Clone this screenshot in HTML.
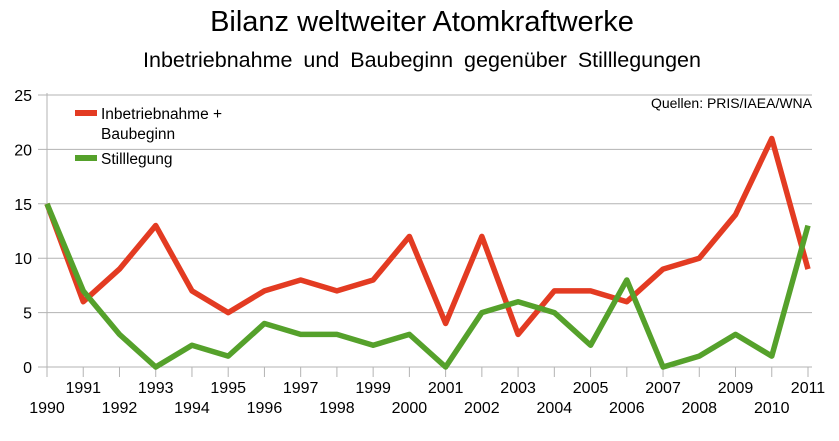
<!DOCTYPE html>
<html><head><meta charset="utf-8"><style>
body{margin:0;background:#fff;}
svg text{font-family:"Liberation Sans",sans-serif;fill:#000;}
</style></head><body>
<svg width="839" height="436" viewBox="0 0 839 436">
<text x="422" y="31" font-size="29" text-anchor="middle">Bilanz weltweiter Atomkraftwerke</text>
<text x="422" y="67" font-size="21.5" text-anchor="middle" word-spacing="5">Inbetriebnahme und Baubeginn gegenüber Stilllegungen</text>
<g id="grid"></g>
<g id="axes"></g>
<g id="series"></g>
<text x="812" y="108" font-size="14" text-anchor="end">Quellen: PRIS/IAEA/WNA</text>
<g>
<rect x="75" y="110" width="22" height="6" fill="#e33b22"/>
<text x="101" y="119" font-size="15.5">Inbetriebnahme +</text>
<text x="101" y="139" font-size="15.5">Baubeginn</text>
<rect x="75" y="155" width="22" height="6" fill="#55a12b"/>
<text x="101" y="164" font-size="15.5">Stilllegung</text>
</g>
</svg>
<script>
const years=[1990,1991,1992,1993,1994,1995,1996,1997,1998,1999,2000,2001,2002,2003,2004,2005,2006,2007,2008,2009,2010,2011];
const inbetrieb=[15,6,9,13,7,5,7,8,7,8,12,4,12,3,7,7,6,9,10,14,21,9];
const stilllegung=[15,7,3,0,2,1,4,3,3,2,3,0,5,6,5,2,8,0,1,3,1,13];
const yTicks=[0,5,10,15,20,25];
const NS="http://www.w3.org/2000/svg";
const X0=47,X1=808,Y0=367,Y1=95;
function xs(i){return X0+(X1-X0)*i/(years.length-1);}
function ys(v){return Y0-(Y0-Y1)*v/25;}
function mk(t,a,p){const e=document.createElementNS(NS,t);for(const k in a)e.setAttribute(k,a[k]);p.appendChild(e);return e;}
const grid=document.getElementById('grid'),axes=document.getElementById('axes'),ser=document.getElementById('series');
yTicks.forEach(v=>{
 const l=mk('line',{x1:38,x2:812,y1:ys(v),y2:ys(v),stroke:'#b3b3b3','stroke-width':1},grid);
 
 
 const t=mk('text',{x:32,y:ys(v)+6,'font-size':16,'text-anchor':'end'},axes);
 t.textContent=v;
 
 
});
const ax=mk('line',{x1:X0,x2:X0,y1:Y1-2,y2:Y0+10,stroke:'#b3b3b3','stroke-width':1},axes);


years.forEach((yr,i)=>{
 const tk=mk('line',{x1:xs(i),x2:xs(i),y1:Y0,y2:Y0+10,stroke:'#b3b3b3','stroke-width':1},axes);
 
 
 const t=mk('text',{x:xs(i),y:(i%2?393:413),'font-size':16,'text-anchor':'middle'},axes);
 t.textContent=yr;
 
 
});
function line(data,color,name){
 const p=mk('polyline',{points:data.map((v,i)=>xs(i)+','+ys(v)).join(' '),fill:'none',stroke:color,'stroke-width':5.5,'stroke-linejoin':'round'},ser);
 
 
}
line(inbetrieb,'#e33b22','series-inbetriebnahme');
line(stilllegung,'#55a12b','series-stilllegung');
</script>
</body></html>
